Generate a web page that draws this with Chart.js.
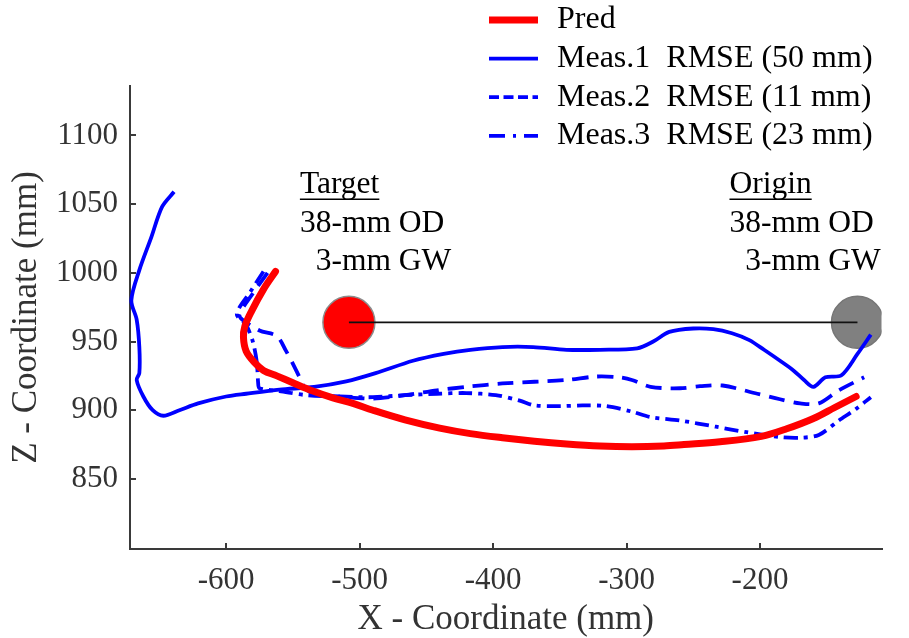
<!DOCTYPE html>
<html lang="en">
<head>
<meta charset="UTF-8">
<title>Guidewire trajectory - X/Z plane</title>
<script src="https://cdn.jsdelivr.net/npm/chart.js"></script>
<style>
    html, body {
        margin: 0;
        padding: 0;
        background: #fff;
    }

    #wrap {
        width: 909px;
        height: 638px;
    }
</style>
</head>
<body>
<div id="wrap"><canvas id="trajChart" width="909" height="638"></canvas></div>
<script>
    // axis ticks (mm)
    const xTicks = [-600, -500, -400, -300, -200];
    const zTicks = [850, 900, 950, 1000, 1050, 1100];

    // predicted path
    const predX = [-563, -572, -581, -586, -587, -585, -579, -572, -562, -550, -535, -520, -505, -490, -466, -440, -417, -393, -369, -345, -320, -296, -272, -257, -230, -199, -180, -160, -144, -128];
    const predZ = [1001, 988, 972, 961, 953, 943, 935, 929, 925, 920, 914, 909, 905, 900, 893, 887, 883, 880, 877.5, 875.5, 874, 873.5, 874, 875, 877, 881, 886.5, 894, 902, 910];

    // measured run 1
    const meas1X = [-639, -648, -656, -665, -671, -667, -665, -665, -667, -662, -655, -647, -635, -621, -600, -585, -560, -534, -510, -488, -460, -437, -417, -393, -370, -345, -320, -292, -280, -268, -250, -235, -221, -208, -197, -185, -175, -167, -160, -151, -139, -127, -117];
    const meas1Z = [1059, 1048, 1026, 1002, 980, 966, 946, 927, 922, 910, 900, 896, 900, 905, 910, 912, 915, 917, 921, 927, 936, 941, 944, 946, 946, 944, 944, 945, 950, 957, 959.5, 959, 956, 951, 944, 936, 929, 922, 917, 924, 925.5, 941, 955];

    // measured run 2
    const meas2X = [-569, -580, -590, -588, -575, -562, -555, -549, -545, -540, -530, -515, -490, -466, -442, -420, -393, -345, -323, -306, -296, -282, -260, -245, -228, -202, -185, -170, -156, -141, -122];
    const meas2Z = [1000, 985, 970, 966, 958, 954, 943, 932, 924, 915, 911, 910, 908.5, 911, 914.5, 917, 919.5, 922, 924.5, 924, 922, 917, 916, 917.5, 918, 912, 908, 905, 905, 914.5, 924];

    // measured run 3
    const meas3X = [-572, -582, -592, -585, -580, -577, -576, -575, -560, -540, -515, -490, -466, -442, -420, -398, -380, -369, -350, -333, -315, -296, -282, -260, -233, -210, -185, -170, -156, -141, -128, -117];
    const meas3Z = [1001, 986, 970, 962, 950, 935, 920, 916, 914, 911, 910, 909.5, 911, 912, 912.5, 911, 907, 903.5, 903, 903.5, 903, 899, 895, 892.5, 888, 884, 880.5, 880, 882, 892.5, 901, 909.5];

    // vessel end points (centre, mm)
    const targetPos = [-508, 964];
    const originPos = [-127, 964];

    const seriesLabels = ['Pred', 'Meas.1  RMSE (50 mm)', 'Meas.2  RMSE (11 mm)', 'Meas.3  RMSE (23 mm)'];

    const serif = '"Liberation Serif", "Times New Roman", serif';

    function pts(xs, zs) {
        return xs.map((x, i) => ({ x: x, y: zs[i] }));
    }

    // legend and the two vessel notes
    const overlay = {
        id: 'overlay',
        afterDraw(chart) {
            const ctx = chart.ctx;
            const sx = chart.scales.x;
            const sy = chart.scales.y;
            ctx.save();
            ctx.font = '31.5px ' + serif;
            ctx.fillStyle = '#000';

            const notes = [
                { pos: targetPos, title: 'Target', dx: -49 },
                { pos: originPos, title: 'Origin', dx: -128 }
            ];
            notes.forEach(n => {
                const cx = sx.getPixelForValue(n.pos[0]);
                const cy = sy.getPixelForValue(n.pos[1]);
                const left = cx + n.dx;
                ctx.textAlign = 'left';
                ctx.textBaseline = 'alphabetic';
                ctx.fillText(n.title, left, cy - 129);
                ctx.fillText('38-mm OD', left, cy - 90);
                ctx.fillText('  3-mm GW', left, cy - 52);
                const w = ctx.measureText(n.title).width;
                ctx.strokeStyle = '#000';
                ctx.lineWidth = 1.5;
                ctx.beginPath();
                ctx.moveTo(left, cy - 123);
                ctx.lineTo(left + w, cy - 123);
                ctx.stroke();
            });

            // legend
            const legendDash = [[], [], [10, 4.5], [16, 8, 3, 8]];
            const ds = chart.data.datasets;
            ctx.font = '32px ' + serif;
            seriesLabels.forEach((label, i) => {
                const d = ds[i + 1];
                const y = 20 + i * 38.6;
                ctx.strokeStyle = d.borderColor;
                ctx.lineWidth = d.borderWidth;
                ctx.setLineDash(legendDash[i]);
                ctx.lineCap = 'butt';
                ctx.beginPath();
                ctx.moveTo(489, y);
                ctx.lineTo(538, y);
                ctx.stroke();
                ctx.setLineDash([]);
                ctx.fillStyle = '#000';
                ctx.textAlign = 'left';
                ctx.textBaseline = 'middle';
                ctx.fillText(label, 557, y);
            });
            ctx.restore();
        }
    };

    const ctx = document.getElementById('trajChart').getContext('2d');
    const trajChart = new Chart(ctx, {
        type: 'scatter',
        data: {
            datasets: [{
                label: 'centre line',
                data: pts([targetPos[0], originPos[0]], [targetPos[1], originPos[1]]),
                showLine: true,
                borderColor: '#111',
                borderWidth: 1.8,
                pointRadius: 0
            }, {
                label: seriesLabels[0],
                data: pts(predX, predZ),
                showLine: true,
                borderColor: '#ff0000',
                borderWidth: 7,
                borderCapStyle: 'round',
                borderJoinStyle: 'round',
                tension: 0.35,
                pointRadius: 0,
                clip: false
            }, {
                label: seriesLabels[1],
                data: pts(meas1X, meas1Z),
                showLine: true,
                borderColor: '#0000ff',
                borderWidth: 3.8,
                borderJoinStyle: 'round',
                tension: 0.3,
                pointRadius: 0,
                clip: false
            }, {
                label: seriesLabels[2],
                data: pts(meas2X, meas2Z),
                showLine: true,
                borderColor: '#0000ff',
                borderWidth: 3.8,
                borderDash: [16, 9],
                tension: 0.3,
                pointRadius: 0,
                clip: false
            }, {
                label: seriesLabels[3],
                data: pts(meas3X, meas3Z),
                showLine: true,
                borderColor: '#0000ff',
                borderWidth: 3.8,
                borderDash: [14, 6, 4, 6],
                tension: 0.3,
                pointRadius: 0,
                clip: false
            }, {
                label: 'target',
                data: pts([targetPos[0]], [targetPos[1]]),
                pointRadius: 26,
                pointBackgroundColor: '#ff0000',
                pointBorderColor: '#8c8c8c',
                pointBorderWidth: 1.5
            }, {
                label: 'origin',
                data: pts([originPos[0]], [originPos[1]]),
                pointRadius: 26,
                pointBackgroundColor: '#808080',
                pointBorderColor: '#767676',
                pointBorderWidth: 1.5
            }]
        },
        options: {
            responsive: false,
            animation: false,
            events: [],
            layout: { padding: { left: 0, right: 5, top: 86, bottom: 0 } },
            plugins: {
                legend: { display: false },
                tooltip: { enabled: false }
            },
            scales: {
                x: {
                    type: 'linear',
                    min: -672,
                    max: -109,
                    afterBuildTicks: s => { s.ticks = xTicks.map(v => ({ value: v })); },
                    afterFit: s => { s.height = 89; },
                    border: { display: true, color: '#3a3a3a', width: 2 },
                    grid: { drawOnChartArea: false, drawTicks: true, tickLength: -6, color: '#3a3a3a', lineWidth: 2 },
                    ticks: {
                        padding: 19,
                        color: '#333',
                        maxRotation: 0,
                        autoSkip: false,
                        font: { family: serif, size: 31 },
                        callback: v => String(v)
                    },
                    title: {
                        display: true,
                        text: 'X - Coordinate (mm)',
                        color: '#333',
                        font: { family: serif, size: 35 },
                        padding: { top: 0, bottom: -3 }
                    }
                },
                y: {
                    type: 'linear',
                    min: 799,
                    max: 1136,
                    afterBuildTicks: s => { s.ticks = zTicks.map(v => ({ value: v })); },
                    afterFit: s => { s.width = 130; },
                    border: { display: true, color: '#3a3a3a', width: 2 },
                    grid: { drawOnChartArea: false, drawTicks: true, tickLength: -6, color: '#3a3a3a', lineWidth: 2 },
                    ticks: {
                        padding: 18,
                        color: '#333',
                        autoSkip: false,
                        font: { family: serif, size: 31 },
                        callback: v => String(v)
                    },
                    title: {
                        display: true,
                        text: 'Z - Coordinate (mm)',
                        color: '#333',
                        font: { family: serif, size: 35 },
                        padding: { top: 6, bottom: 0 }
                    }
                }
            }
        },
        plugins: [overlay]
    });
</script>
</body>
</html>
